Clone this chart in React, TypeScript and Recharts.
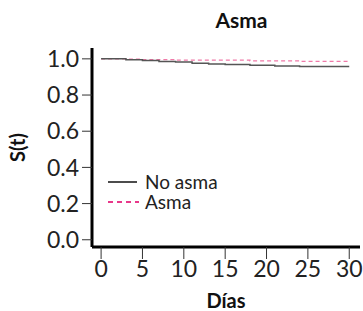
import { LineChart, Line, XAxis, YAxis } from "recharts";

const days = [0, 3, 5, 7, 9, 11, 13, 15, 18, 21, 24, 30];
const noAsma = [1.0, 0.9945, 0.991, 0.985, 0.982, 0.976, 0.972, 0.969, 0.965, 0.961, 0.958, 0.958];
const asma = [1.0, 0.999, 0.996, 0.996, 0.993, 0.993, 0.993, 0.993, 0.989, 0.989, 0.986, 0.986];
const xTicks = [0, 5, 10, 15, 20, 25, 30];
const yTicks = [0, 0.2, 0.4, 0.6, 0.8, 1.0];

const data = days.map((d, i) => ({ dia: d, noAsma: noAsma[i], asma: asma[i] }));

const FONT = "Lato, 'DejaVu Sans', sans-serif";

function LegendBox() {
    return (
        <div
            style={{
                position: "absolute",
                top: 172,
                left: 108,
                fontFamily: FONT,
                fontSize: 19,
                color: "#222",
                lineHeight: "20px",
            }}
        >
            <div style={{ display: "flex", alignItems: "center" }}>
                <svg width={37} height={10}>
                    <line x1={0} y1={5} x2={29} y2={5} stroke="#111" strokeWidth={1.5} />
                </svg>
                <span>No asma</span>
            </div>
            <div style={{ display: "flex", alignItems: "center" }}>
                <svg width={37} height={10}>
                    <line x1={0} y1={5} x2={31} y2={5} stroke="#e8388a" strokeWidth={2} strokeDasharray="5 4" />
                </svg>
                <span>Asma</span>
            </div>
        </div>
    );
}

export default function App() {
    return (
        <div style={{ position: "absolute", left: 0, top: 0, width: 363, height: 311, background: "#fff" }}>
            <div
                style={{
                    position: "absolute",
                    top: 7,
                    left: 120,
                    width: 243,
                    textAlign: "center",
                    fontFamily: FONT,
                    fontWeight: 700,
                    fontSize: 21,
                    color: "#111",
                }}
            >
                Asma
            </div>
            <LineChart
                width={363}
                height={311}
                data={data}
                margin={{ top: 48, right: 3, bottom: 0, left: 0 }}
            >
                <XAxis
                    dataKey="dia"
                    type="number"
                    domain={[-1.1, 31.3]}
                    ticks={xTicks}
                    interval={0}
                    height={64}
                    axisLine={{ stroke: "#000", strokeWidth: 3 }}
                    tickLine={{ stroke: "#333", strokeWidth: 1 }}
                    tickSize={12}
                    tickMargin={2}
                    tick={{ fill: "#222", fontSize: 23, fontFamily: FONT }}
                    label={{
                        value: "Días",
                        position: "insideBottom",
                        offset: 3,
                        style: { fill: "#111", fontSize: 20, fontWeight: 700, fontFamily: FONT },
                    }}
                />
                <YAxis
                    type="number"
                    domain={[-0.04, 1.06]}
                    ticks={yTicks}
                    interval={0}
                    width={92}
                    tickFormatter={(v: number) => v.toFixed(1)}
                    axisLine={{ stroke: "#000", strokeWidth: 3 }}
                    tickLine={{ stroke: "#333", strokeWidth: 1 }}
                    tickSize={10}
                    tickMargin={3}
                    tick={{ fill: "#222", fontSize: 23, fontFamily: FONT }}
                    label={{
                        value: "S(t)",
                        angle: -90,
                        position: "insideLeft",
                        offset: 18,
                        style: { fill: "#111", fontSize: 20, fontWeight: 700, fontFamily: FONT, textAnchor: "middle" },
                    }}
                />
                <Line
                    type="stepAfter"
                    dataKey="asma"
                    stroke="#f07aa8"
                    strokeWidth={1.3}
                    strokeDasharray="4 3"
                    dot={false}
                    isAnimationActive={false}
                />
                <Line
                    type="stepAfter"
                    dataKey="noAsma"
                    stroke="#555"
                    strokeWidth={1.5}
                    dot={false}
                    isAnimationActive={false}
                />
            </LineChart>
            <LegendBox />
        </div>
    );
}
